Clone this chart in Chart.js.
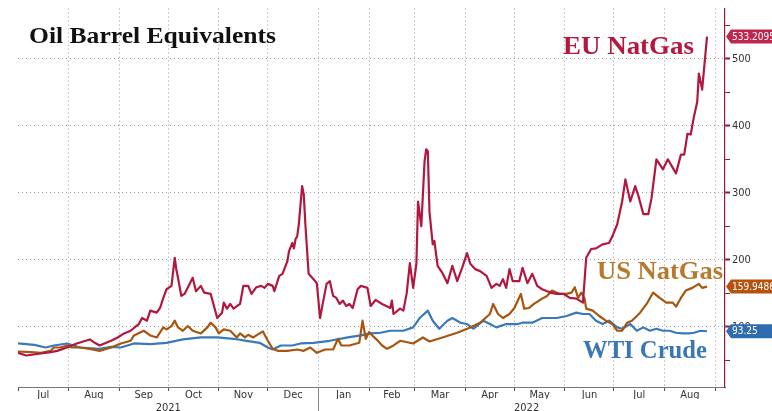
<!DOCTYPE html>
<html><head><meta charset="utf-8">
<script src="https://cdn.jsdelivr.net/npm/chart.js@4.4.0/dist/chart.umd.min.js"></script>
<style>html,body{margin:0;padding:0;background:#fff}#wrap{width:772px;height:411px;position:relative}</style>
</head><body><div id="wrap"><canvas id="c" width="772" height="411"></canvas></div>
<script>
// ---------- DATA ----------
const chartTitle = 'Oil Barrel Equivalents';
const startYear = 2021, startMonth = 6;          // day 0 = 1 Jul 2021
const endDay = 433;                               // axis end (~7 Sep 2022)
const monthLabels = ['Jul','Aug','Sep','Oct','Nov','Dec','Jan','Feb','Mar','Apr','May','Jun','Jul','Aug'];
const yearLabels = ['2021','2022'];
const yTickValues = [50,100,150,200,250,300,350,400,450,500,550];
const seriesNames = ['EU NatGas','US NatGas','WTI Crude'];

// days since 1 Jul 2021
const euDays = [0,5,14,20,24,30,36,40,44,47,50,57,61,65,69,72,74,76,79,81,85,87,89,91,94,96,97,98,100,102,107,109,112,114,118,122,125,126,128,130,132,136,138,141,143,146,149,151,153,156,157,160,162,165,166,168,169,170,171,172,174,175,176,178,181,183,185,187,189,191,193,195,197,199,201,203,205,208,210,214,216,219,223,228,229,230,234,236,238,240,242,244,245,247,249,250,251,252,254,255,257,260,263,266,269,272,275,277,280,283,287,290,293,295,297,299,301,303,307,309,312,315,318,321,326,330,334,338,342,346,348,351,354,358,362,364,367,370,372,375,378,380,383,386,388,391,395,398,403,406,408,410,412,414,416,417,419,422];
const euValues = [61,57,60,62,64,69,75,78,81,76,72,79,84,90,94,100,104,113,109,124,121,128,143,156,161,203,185,173,146,149,173,153,161,151,149,113,121,136,127,134,127,134,161,161,149,159,161,158,164,161,153,176,179,198,213,225,217,231,235,253,310,298,253,179,171,165,113,139,164,168,146,143,134,139,131,134,128,156,161,158,131,140,134,128,139,119,127,124,149,195,158,194,287,250,347,365,362,272,223,228,191,180,165,191,168,188,210,194,186,183,176,158,164,161,171,158,186,168,168,188,165,179,161,156,151,149,149,143,142,136,203,216,217,223,225,235,253,287,320,287,310,295,268,268,292,350,335,350,329,357,357,388,387,414,436,478,454,533.2095];

const usDays = [0,8,14,20,22,26,30,33,38,44,50,57,63,69,71,77,81,85,89,91,94,96,98,101,104,107,112,116,118,121,123,126,130,134,136,139,141,144,146,150,153,156,159,165,171,175,179,183,188,193,196,198,203,209,211,213,215,217,220,223,226,230,234,242,248,252,260,269,277,283,289,291,294,297,301,304,308,310,313,316,321,324,327,332,336,339,341,343,345,347,348,352,356,360,364,367,370,373,376,381,385,389,393,397,401,403,406,409,413,417,419,422];
const usValues = [63,62,61,64,69,69,72,69,69,67,64,69,75,79,87,94,87,84,99,96,101,109,99,94,101,94,90,99,106,99,90,96,94,84,90,84,88,84,87,93,79,67,64,64,66,64,69,61,66,66,82,72,72,76,109,82,92,87,80,72,67,72,79,75,84,78,84,91,99,106,119,134,119,113,119,128,149,127,128,134,142,146,154,149,149,151,159,143,151,142,127,124,116,109,104,94,94,106,109,121,134,151,143,136,136,130,143,154,158,164,158,159.9486];

const wtiDays = [0,10,17,22,30,38,50,57,63,71,81,91,101,112,122,132,140,148,153,156,161,168,173,181,191,202,210,216,222,228,236,242,246,251,254,258,263,266,271,275,279,285,289,293,299,306,309,315,321,330,336,342,346,350,354,358,362,367,370,375,379,383,387,391,395,399,403,407,411,414,418,422];
const wtiValues = [75,73,69,72,75,69,67,70,69,75,74,76,81,84,84,82,79,76,69,66,72,72,75,76,79,84,87,90,91,94,94,99,113,124,109,97,109,113,106,104,97,109,104,99,104,104,106,106,113,113,116,121,119,119,109,104,109,99,97,104,94,99,94,97,94,94,91,90,90,91,94,93.25];

// ---------- STYLE ----------
const colors = {
  eu: '#b2183f', us: '#a8550f', wti: '#3979b8',
  euText: '#b5173f', usText: '#b7792c', wtiText: '#3a77b6',
  euTag: '#c0264c', usTag: '#b4520e', wtiTag: '#2f6cb0',
  grid: '#9a9a9a', yAxis: '#8b1c3c', xAxis: '#777777', tick: '#333333'
};
const narrow = '"Liberation Sans Narrow", "DejaVu Sans Condensed", "Liberation Sans", sans-serif';

// month boundaries in days since start
const DAY = 86400000;
const t0 = Date.UTC(startYear, startMonth, 1);
const boundaries = [];
for (let i = 0; i <= monthLabels.length; i++) boundaries.push(Math.round((Date.UTC(startYear, startMonth + i, 1) - t0) / DAY));
const yearBreak = Math.round((Date.UTC(startYear + 1, 0, 1) - t0) / DAY);

const xTickDefs = [];
boundaries.forEach((b, i) => {
  xTickDefs.push({ value: b, label: '', boundary: true });
  if (i < monthLabels.length) xTickDefs.push({ value: (b + boundaries[i + 1]) / 2, label: monthLabels[i], boundary: false });
});
const yearTickDefs = [
  { value: yearBreak / 2, label: yearLabels[0] },
  { value: (yearBreak + endDay) / 2 + 3, label: yearLabels[1] }
];

function toPoints(days, vals) { return days.map((d, i) => ({ x: d, y: vals[i] })); }

const overlay = {
  id: 'overlay',
  afterDraw(chart) {
    const ctx = chart.ctx, y = chart.scales.y, x = chart.scales.x, area = chart.chartArea;
    // year separator
    ctx.save();
    ctx.strokeStyle = '#888'; ctx.lineWidth = 1;
    const sx = Math.round(x.getPixelForValue(yearBreak)) + 0.5;
    ctx.beginPath(); ctx.moveTo(sx, area.bottom); ctx.lineTo(sx, chart.height); ctx.stroke();
    ctx.restore();

    function fitted(text, left, base, px, width, color) {
      ctx.save();
      ctx.font = 'bold ' + px + 'px "Liberation Serif", "Times New Roman", serif';
      const w = ctx.measureText(text).width;
      ctx.translate(left, base);
      ctx.scale(width / w, 1);
      ctx.fillStyle = color; ctx.textBaseline = 'alphabetic'; ctx.textAlign = 'left';
      ctx.fillText(text, 0, 0);
      ctx.restore();
    }
    fitted(chartTitle, 29, 43, 24, 247, '#111');
    fitted(seriesNames[0], 563, 54, 26, 131, colors.euText);
    fitted(seriesNames[1], 597, 279, 26, 126, colors.usText);
    fitted(seriesNames[2], 583, 358, 26, 124, colors.wtiText);

    // value tags
    const tags = [
      { v: euValues[euValues.length - 1], c: colors.euTag },
      { v: usValues[usValues.length - 1], c: colors.usTag },
      { v: wtiValues[wtiValues.length - 1], c: colors.wtiTag }
    ];
    tags.forEach(t => {
      const py = y.getPixelForValue(t.v);
      const xl = area.right + 1;
      ctx.save();
      ctx.fillStyle = t.c;
      ctx.beginPath();
      ctx.moveTo(xl, py);
      ctx.lineTo(xl + 5, py - 7);
      ctx.lineTo(chart.width, py - 7);
      ctx.lineTo(chart.width, py + 7);
      ctx.lineTo(xl + 5, py + 7);
      ctx.closePath(); ctx.fill();
      ctx.fillStyle = '#fff';
      ctx.font = '10px ' + narrow;
      ctx.textBaseline = 'middle'; ctx.textAlign = 'left';
      ctx.fillText(String(t.v), xl + 6, py + 0.5);
      ctx.restore();
    });
  }
};

new Chart(document.getElementById('c'), {
  type: 'line',
  data: {
    datasets: [
      { label: seriesNames[0], data: toPoints(euDays, euValues), borderColor: colors.eu, borderWidth: 2.2 },
      { label: seriesNames[1], data: toPoints(usDays, usValues), borderColor: colors.us, borderWidth: 2.2 },
      { label: seriesNames[2], data: toPoints(wtiDays, wtiValues), borderColor: colors.wti, borderWidth: 2.2 }
    ]
  },
  options: {
    responsive: false, animation: false,
    layout: { padding: { left: 18, top: 7, right: 0, bottom: 0 } },
    elements: { point: { radius: 0 }, line: { tension: 0, borderJoinStyle: 'round' } },
    plugins: { legend: { display: false }, title: { display: false }, tooltip: { enabled: false } },
    scales: {
      x: {
        type: 'linear', position: 'bottom', min: 0, max: endDay, weight: 1,
        afterBuildTicks: s => { s.ticks = xTickDefs.map(t => ({ value: t.value })); },
        afterFit: s => { s.height = 12; },
        ticks: {
          autoSkip: false, maxRotation: 0, padding: -2,
          font: { family: narrow, size: 11 }, color: colors.tick,
          callback: (v, i) => xTickDefs[i] ? xTickDefs[i].label : ''
        },
        grid: {
          color: c => (c.tick && xTickDefs[c.index] && xTickDefs[c.index].boundary && c.tick.value > 0) ? colors.grid : 'rgba(0,0,0,0)',
          tickColor: c => (c.tick && xTickDefs[c.index] && xTickDefs[c.index].boundary) ? '#555' : 'rgba(0,0,0,0)',
          lineWidth: 1, tickLength: 4, drawTicks: true
        },
        border: { display: true, color: colors.xAxis, width: 1, dash: [1, 3] }
      },
      xYear: {
        type: 'linear', position: 'bottom', min: 0, max: endDay, weight: 2,
        afterBuildTicks: s => { s.ticks = yearTickDefs.map(t => ({ value: t.value })); },
        afterFit: s => { s.height = 12; },
        ticks: {
          autoSkip: false, maxRotation: 0, padding: -5,
          font: { family: narrow, size: 11 }, color: colors.tick,
          callback: (v, i) => yearTickDefs[i] ? yearTickDefs[i].label : ''
        },
        grid: { display: false, drawOnChartArea: false },
        border: { display: false }
      },
      y: {
        type: 'linear', position: 'right', min: 10, max: 575,
        afterBuildTicks: s => { s.ticks = yTickValues.map(v => ({ value: v })); },
        afterFit: s => { s.width = 47; },
        ticks: {
          autoSkip: false, padding: 2,
          font: { family: narrow, size: 11 }, color: colors.tick,
          callback: v => (v % 100 === 0 ? String(v) : '')
        },
        grid: {
          color: c => (c.tick && c.tick.value % 100 === 0) ? colors.grid : 'rgba(0,0,0,0)',
          tickColor: colors.yAxis,
          tickWidth: c => (c.tick && c.tick.value % 100 === 0) ? 2 : 1,
          tickLength: 5, lineWidth: 1
        },
        border: { display: true, color: colors.yAxis, width: 1.2, dash: [1, 3] }
      }
    }
  },
  plugins: [overlay]
});
</script>
</body></html>
